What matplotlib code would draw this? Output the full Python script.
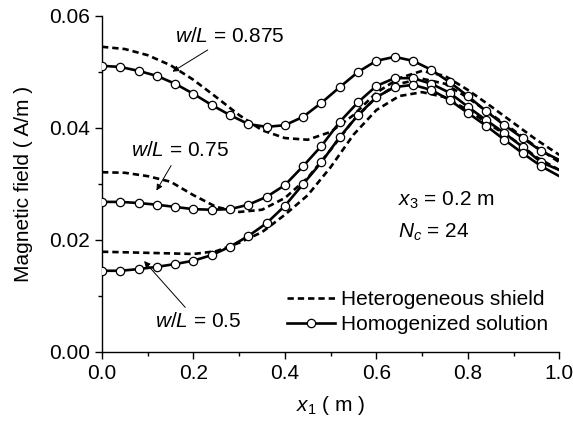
import numpy as np
import matplotlib.pyplot as plt
from matplotlib.ticker import MultipleLocator

plt.rcParams['font.family'] = ['Liberation Sans', 'DejaVu Sans']
plt.rcParams['mathtext.fontset'] = 'custom'
plt.rcParams['mathtext.rm'] = 'Liberation Sans'
plt.rcParams['mathtext.it'] = 'Liberation Sans:italic'

#homogenized solution, sampled every 0.04 m (last point at 1.0)
x_hom = [0.00, 0.04, 0.08, 0.12, 0.16, 0.20, 0.24, 0.28, 0.32, 0.36, 0.40, 0.44, 0.48,
         0.52, 0.56, 0.60, 0.64, 0.68, 0.72, 0.76, 0.80, 0.84, 0.88, 0.92, 0.96, 1.00]
hom_0875 = [0.0511, 0.0509, 0.0502, 0.0493, 0.0479, 0.0461, 0.0441, 0.0423, 0.0407, 0.0402,
            0.0405, 0.0420, 0.0445, 0.0473, 0.0500, 0.0520, 0.0527, 0.0520, 0.0504, 0.0482,
            0.0457, 0.0430, 0.0405, 0.0382, 0.0359, 0.0343]
hom_075 = [0.0268, 0.0268, 0.0266, 0.0263, 0.0259, 0.0255, 0.0254, 0.0255, 0.0263, 0.0277,
           0.0298, 0.0332, 0.0368, 0.0411, 0.0446, 0.0475, 0.0489, 0.0489, 0.0479, 0.0463,
           0.0438, 0.0414, 0.0391, 0.0366, 0.0339, 0.0325]
hom_05 = [0.0145, 0.0145, 0.0148, 0.0152, 0.0157, 0.0163, 0.0173, 0.0188, 0.0207, 0.0230,
          0.0261, 0.0300, 0.0339, 0.0384, 0.0423, 0.0455, 0.0473, 0.0477, 0.0468, 0.0450,
          0.0427, 0.0404, 0.0379, 0.0355, 0.0332, 0.0314]

#heterogeneous shield, sampled every 0.05 m
x_het = [0.00, 0.05, 0.10, 0.15, 0.20, 0.25, 0.30, 0.35, 0.40, 0.45, 0.50,
         0.55, 0.60, 0.65, 0.70, 0.75, 0.80, 0.85, 0.90, 0.95, 1.00]
het_0875 = [0.0545, 0.0541, 0.0530, 0.0512, 0.0486, 0.0455, 0.0423, 0.0396, 0.0382, 0.0379,
            0.0393, 0.0423, 0.0463, 0.0489, 0.0502, 0.0493, 0.0468, 0.0439, 0.0409, 0.0379,
            0.0352]
het_075 = [0.0321, 0.0320, 0.0314, 0.0304, 0.0280, 0.0259, 0.0250, 0.0254, 0.0275, 0.0311,
           0.0361, 0.0414, 0.0455, 0.0479, 0.0488, 0.0479, 0.0454, 0.0425, 0.0396, 0.0366,
           0.0339]
het_05 = [0.0179, 0.0178, 0.0177, 0.0176, 0.0175, 0.0180, 0.0195, 0.0214, 0.0245, 0.0280,
          0.0330, 0.0388, 0.0432, 0.0457, 0.0464, 0.0455, 0.0432, 0.0405, 0.0379, 0.0348,
          0.0325]

#%%
fig = plt.figure(figsize=(5.73, 4.21), dpi=100)
ax = fig.add_axes([0.178, 0.164, 0.798, 0.798])

fs = 15
dash = (0, (2.4, 1.5))
for h in [het_0875, het_075, het_05]:
    ax.plot(x_het, h, color='black', lw=1.9, linestyle=dash, zorder=2)
for h in [hom_0875, hom_075, hom_05]:
    ax.plot(x_hom, h, color='black', lw=1.9, marker='o', ms=6, mfc='white',
            mec='black', mew=0.9, markevery=slice(0, 25), zorder=3)

#legend
ax.plot([], [], color='black', lw=1.9, linestyle=dash, label='Heterogeneous shield')
ax.plot([], [], color='black', lw=1.9, marker='o', ms=6, mfc='white', mec='black',
        mew=0.9, label='Homogenized solution')
handles, labels = ax.get_legend_handles_labels()
ax.legend(handles[-2:], labels[-2:], loc='upper left', bbox_to_anchor=(0.405, 0.185),
          frameon=False, fontsize=fs, handlelength=2.3, handletextpad=0.3,
          labelspacing=0.3, borderpad=0, borderaxespad=0)

#annotations
arrow = dict(arrowstyle='-|>', color='black', lw=0.7, mutation_scale=9)
ax.annotate('$w/L$ = 0.875', xy=(0.149, 0.0498), xytext=(0.28, 0.0564),
            ha='center', va='center', fontsize=fs, arrowprops=arrow)
ax.annotate('$w/L$ = 0.75', xy=(0.116, 0.0284), xytext=(0.17, 0.0359),
            ha='center', va='center', fontsize=fs, arrowprops=arrow)
ax.annotate('$w/L$ = 0.5', xy=(0.088, 0.0166), xytext=(0.21, 0.0054),
            ha='center', va='center', fontsize=fs, arrowprops=arrow)
ax.text(0.648, 0.0271, '$x_3$ = 0.2 m', fontsize=fs, ha='left', va='center')
ax.text(0.648, 0.0214, '$N_c$ = 24', fontsize=fs, ha='left', va='center')

ax.set_xlim(0, 1.0)
ax.set_ylim(0, 0.06)
ax.xaxis.set_major_locator(MultipleLocator(0.2))
ax.xaxis.set_minor_locator(MultipleLocator(0.1))
ax.yaxis.set_major_locator(MultipleLocator(0.02))
ax.yaxis.set_minor_locator(MultipleLocator(0.01))
ax.xaxis.set_major_formatter(plt.FuncFormatter(lambda v, p: f'{v:.1f}'))
ax.yaxis.set_major_formatter(plt.FuncFormatter(lambda v, p: f'{v:.2f}'))
ax.tick_params(which='both', direction='out', labelsize=fs, width=1.0)
ax.tick_params(which='major', length=5)
ax.tick_params(which='minor', length=3)
ax.spines['top'].set_visible(False)
ax.spines['right'].set_visible(False)
ax.spines['left'].set_linewidth(1.0)
ax.spines['bottom'].set_linewidth(1.0)
ax.set_xlabel('$x_1$ ( m )', fontsize=fs, labelpad=8)
ax.set_ylabel('Magnetic field ( A/m )', fontsize=fs, labelpad=12)

fig.savefig('out.png', dpi=100)
